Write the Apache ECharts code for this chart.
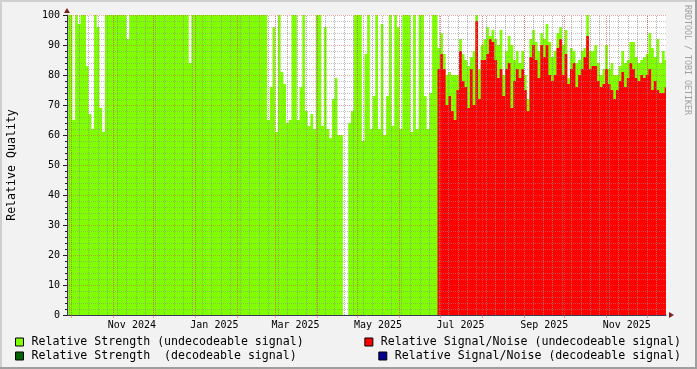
<!DOCTYPE html>
<html><head><meta charset="utf-8">
<script src="https://cdn.jsdelivr.net/npm/echarts@6/dist/echarts.min.js"></script>
<style>html,body{margin:0;padding:0;background:#F2F2F2}#c{width:697px;height:369px}</style>
</head><body><div id="c"></div>
<script>
// ---- data ----
const startDate = '2024-09-28';
const endDate = '2025-12-15';
const binDays = 2;
const seriesNames = [
  'Relative Strength (undecodeable signal)',
  'Relative Strength  (decodeable signal)',
  'Relative Signal/Noise (undecodeable signal)',
  'Relative Signal/Noise (decodeable signal)'
];
// Relative Strength (undecodeable), one value per 2-day bin from startDate
const strength = [
  100,100,65,100,97,100,100,83,67,62,
  100,96,69,61,100,100,100,100,100,100,
  100,100,92,100,100,100,100,100,100,100,
  100,100,100,100,100,100,100,100,100,100,
  100,100,100,100,100,84,100,100,100,100,
  100,100,100,100,100,100,100,100,100,100,
  100,100,100,100,100,100,100,100,100,100,
  100,100,100,100,65,76,96,61,100,81,
  77,64,65,100,100,65,76,100,68,63,
  67,62,100,100,63,96,62,59,72,79,
  60,60,0,0,64,68,100,100,100,58,
  87,100,62,73,100,62,97,60,73,100,
  63,100,96,62,100,100,100,61,100,62,
  100,100,73,62,74,100,100,
  89,94,87,80,81,80,80,80,92,87,
  85,83,86,88,100,82,90,92,96,93,
  95,92,90,95,80,88,93,90,85,88,
  84,88,80,72,92,95,91,88,94,92,
  97,91,86,88,94,96,90,95,79,89,
  88,84,85,88,89,100,88,88,90,84,
  80,82,90,82,84,80,80,83,88,84,
  85,91,91,86,84,85,86,87,94,89,
  86,92,84,88,85
];
// Relative Signal/Noise (undecodeable), 2-day bins from snrStart
const snrStart = '2025-06-29';
const snr = [
  82,87,82,70,73,68,65,75,88,78,
  76,69,82,70,98,72,85,85,87,92,
  91,85,79,82,73,82,84,69,78,82,
  79,82,75,68,86,90,85,79,90,86,
  90,80,78,80,89,92,80,87,77,82,
  84,76,80,82,86,93,82,83,83,78,
  76,77,82,77,75,72,75,78,81,76,
  79,84,82,79,78,80,79,80,82,75,
  78,75,74,74,76
];
const strengthDecode = [];
const snrDecode = [];
const tickLabels = ['Nov 2024','Jan 2025','Mar 2025','May 2025','Jul 2025','Sep 2025','Nov 2025'];
const tickLabelDates = ['2024-11-15','2025-01-15','2025-03-16','2025-05-16','2025-07-16','2025-09-16','2025-11-16'];
const monthStarts = ['2024-10-01','2024-11-01','2024-12-01','2025-01-01','2025-02-01','2025-03-01','2025-04-01',
  '2025-05-01','2025-06-01','2025-07-01','2025-08-01','2025-09-01','2025-10-01','2025-11-01','2025-12-01'];
const firstMonday = '2024-09-30';

// ---- helpers ----
const DAY = 86400000;
const t0 = Date.parse(startDate + 'T00:00:00Z');
const dayOf = s => (Date.parse(s + 'T00:00:00Z') - t0) / DAY;
function stepPoints(vals, startDay) {
  const pts = vals.map((v, i) => [startDay + i * binDays, v]);
  if (vals.length) pts.push([startDay + vals.length * binDays, vals[vals.length - 1]]);
  return pts;
}
const xMax = dayOf(endDate);
const labelDays = tickLabelDates.map(dayOf);
const monthDays = monthStarts.map(dayOf);
const weekDays = [];
for (let d = dayOf(firstMonday); d < xMax; d += 7) weekDays.push(d);

const MONO = 'DejaVu Sans Mono';
const colors = ['#7FFF00', '#006400', '#FF0000', '#00008B'];
function areaSeries(name, color, data) {
  return {
    name, type: 'line', step: 'end', data, symbol: 'none', showSymbol: false,
    lineStyle: { width: 0 }, itemStyle: { color },
    areaStyle: { color, opacity: 1 }, z: 2, animation: false, silent: true
  };
}

const chart = echarts.init(document.getElementById('c'), null, { renderer: 'canvas' });
const gridMinor = 'rgba(143,143,143,0.55)';
const gridMajor = 'rgba(222,79,79,0.5)';
const vMinor = 'rgba(143,143,143,0.7)';
const vMajor = 'rgba(222,79,79,0.7)';
const markData = weekDays.map(d => ({ xAxis: d, lineStyle: { color: vMinor, type: [1, 1], width: 1 } }))
  .concat(monthDays.map(d => ({ xAxis: d, lineStyle: { color: vMajor, type: [1, 1], width: 1 } })));

function legendFor(names, pos) {
  return Object.assign({
    data: names, orient: 'vertical', icon: 'rect', itemWidth: 8, itemHeight: 8, itemGap: 2,
    selectedMode: false, padding: 0,
    itemStyle: { borderColor: '#000', borderWidth: 1 },
    textStyle: { fontFamily: MONO, fontSize: 11.6, color: '#000', padding: [0, 0, 0, 3] }
  }, pos);
}

chart.setOption({
  backgroundColor: '#F2F2F2',
  animation: false,
  grid: { left: 67, right: 31, top: 15, bottom: 54, show: true, backgroundColor: '#FFFFFF', borderWidth: 0,
          outerBoundsMode: 'none', containLabel: false },
  xAxis: {
    type: 'value', min: 0, max: xMax, z: 6,
    axisLine: { show: true, onZero: false, lineStyle: { color: '#3a3a55', width: 1 } },
    axisTick: { show: true, customValues: monthDays, length: 3, lineStyle: { color: gridMajor } },
    axisLabel: {
      customValues: labelDays, margin: 5, fontFamily: MONO, fontSize: 10, color: '#000',
      formatter: v => { const i = labelDays.indexOf(v); return i >= 0 ? tickLabels[i] : ''; }
    },
    splitLine: { show: false }
  },
  yAxis: {
    type: 'value', min: 0, max: 100, interval: 10, z: 6,
    name: 'Relative Quality', nameLocation: 'middle', nameRotate: 90, nameGap: 49,
    nameTextStyle: { fontFamily: MONO, fontSize: 11.6, color: '#000' },
    axisLine: { show: true, lineStyle: { color: '#3a3a55', width: 1 } },
    axisTick: { show: true, length: 4, lineStyle: { color: '#1F1F1F' } },
    minorTick: { show: true, splitNumber: 5, length: 2, lineStyle: { color: '#1F1F1F' } },
    axisLabel: { margin: 7, fontFamily: MONO, fontSize: 10, color: '#000' },
    splitLine: { show: true, lineStyle: { color: gridMajor, type: [1, 1], width: 1 } },
    minorSplitLine: { show: true, lineStyle: { color: gridMinor, type: [1, 1], width: 1 } }
  },
  legend: [
    legendFor([seriesNames[0], seriesNames[1]], { left: 15, top: 336 }),
    legendFor([seriesNames[2]], { right: 16, top: 336 }),
    legendFor([seriesNames[3]], { right: 16, top: 350 })
  ],
  series: [
    areaSeries(seriesNames[0], colors[0], stepPoints(strength, 0)),
    areaSeries(seriesNames[1], colors[1], stepPoints(strengthDecode, 0)),
    areaSeries(seriesNames[2], colors[2], stepPoints(snr, dayOf(snrStart))),
    areaSeries(seriesNames[3], colors[3], stepPoints(snrDecode, 0)),
    {
      name: 'grid', type: 'line', data: [], z: 6, silent: true,
      markLine: { silent: true, symbol: 'none', label: { show: false }, animation: false, data: markData }
    }
  ],
  graphic: [
    { type: 'rect', shape: { x: 0, y: 0, width: 697, height: 2 }, style: { fill: '#CFCFCF' } },
    { type: 'rect', shape: { x: 0, y: 0, width: 2, height: 369 }, style: { fill: '#CFCFCF' } },
    { type: 'rect', shape: { x: 695, y: 0, width: 2, height: 369 }, style: { fill: '#9E9E9E' } },
    { type: 'rect', shape: { x: 0, y: 367, width: 697, height: 2 }, style: { fill: '#9E9E9E' } },
    { type: 'polygon', shape: { points: [[64, 13], [70, 13], [67, 8]] }, style: { fill: '#801F1F' }, z: 10 },
    { type: 'polygon', shape: { points: [[669, 312], [669, 318], [674, 315]] }, style: { fill: '#801F1F' }, z: 10 },
    { type: 'text', x: 687, y: 5, rotation: -Math.PI / 2,
      style: { text: 'RRDTOOL / TOBI OETIKER', fontFamily: MONO, fontSize: 8.3, fill: '#A0A0A0', align: 'left', verticalAlign: 'middle' } }
  ]
});
</script></body></html>
